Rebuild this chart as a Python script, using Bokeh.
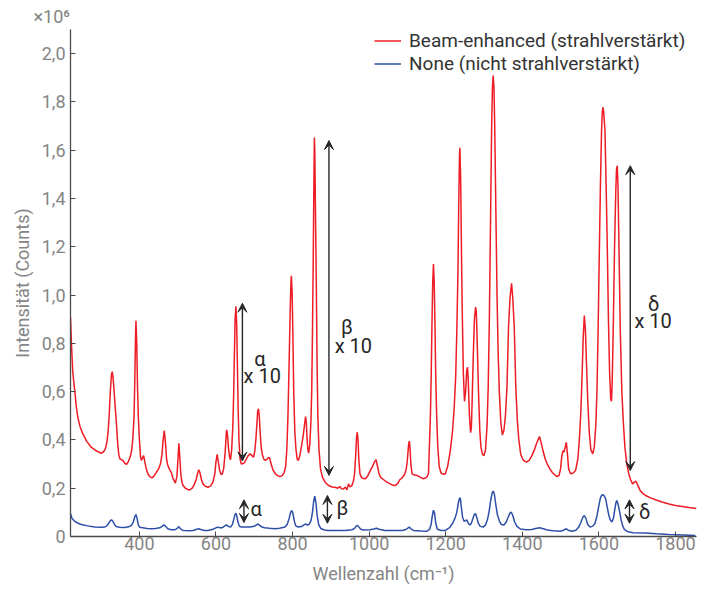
from bokeh.plotting import figure
from bokeh.models import (FixedTicker, Legend, LegendItem, Arrow, VeeHead, Label, Title)
from bokeh.embed import file_html
from bokeh.resources import INLINE

# ---- data (intensity in units of 10^6 counts) ----
red_x = [220, 223, 226, 231, 235, 239, 245, 252, 262, 274, 287, 300, 306, 311, 315, 318, 321, 324, 327, 329,
         331, 334, 337, 340, 343, 346, 349, 353, 357, 361, 366, 371, 376, 380, 383, 386, 388, 390, 391, 393,
         395, 397, 400, 403, 405, 408, 411, 414, 418, 422, 427, 433, 438, 444, 450, 455, 459, 462, 465, 468,
         471, 474, 478, 483, 488, 494, 498, 501, 503, 505, 508, 511, 514, 520, 526, 531, 538, 544, 548, 552,
         555, 558, 562, 566, 572, 579, 586, 592, 597, 600, 603, 606, 610, 613, 616, 620, 624, 627, 628, 630,
         633, 636, 638, 641, 644, 646, 648, 650, 652, 654, 656, 658, 660, 663, 666, 670, 674, 679, 684, 689,
         694, 698, 701, 704, 707, 709, 711, 713, 715, 718, 721, 725, 729, 733, 737, 740, 744, 749, 755, 761,
         767, 773, 778, 782, 785, 788, 791, 794, 796, 797, 799, 801, 803, 806, 809, 812, 815, 819, 824, 828,
         831, 834, 836, 838, 840, 842, 845, 848, 850, 852, 854, 856, 857, 858, 860, 862, 864, 866, 869, 873,
         878, 885, 894, 903, 911, 918, 923, 928, 933, 938, 942, 946, 950, 955, 959, 962, 965, 967, 969, 971,
         973, 976, 980, 985, 990, 996, 1003, 1009, 1014, 1018, 1022, 1026, 1030, 1038, 1046, 1055, 1062, 1068, 1075, 1080,
         1086, 1092, 1097, 1100, 1103, 1105, 1107, 1109, 1112, 1118, 1125, 1134, 1142, 1150, 1155, 1160, 1162, 1164, 1166, 1168,
         1170, 1172, 1174, 1176, 1179, 1183, 1188, 1195, 1199, 1205, 1212, 1218, 1222, 1226, 1229, 1232, 1234, 1236, 1237, 1239,
         1241, 1243, 1246, 1249, 1252, 1255, 1257, 1259, 1262, 1265, 1267, 1269, 1272, 1275, 1278, 1280, 1283, 1286, 1289, 1292,
         1296, 1300, 1304, 1308, 1311, 1314, 1317, 1320, 1322, 1324, 1326, 1328, 1331, 1334, 1337, 1340, 1344, 1348, 1352, 1356,
         1360, 1364, 1368, 1372, 1375, 1379, 1383, 1387, 1391, 1396, 1403, 1411, 1418, 1425, 1432, 1437, 1441, 1445, 1449, 1454,
         1460, 1465, 1472, 1478, 1485, 1491, 1496, 1500, 1503, 1506, 1509, 1512, 1515, 1518, 1521, 1526, 1532, 1539, 1545, 1549,
         1553, 1556, 1559, 1562, 1565, 1568, 1571, 1575, 1579, 1584, 1588, 1592, 1595, 1598, 1601, 1604, 1607, 1609, 1611, 1613,
         1616, 1619, 1622, 1625, 1628, 1631, 1633, 1635, 1638, 1641, 1644, 1646, 1648, 1650, 1653, 1656, 1660, 1664, 1668, 1673,
         1678, 1683, 1688, 1693, 1697, 1701, 1708, 1715, 1722, 1735, 1748, 1765, 1783, 1800, 1818, 1836, 1855]
red_y = [0.908, 0.780, 0.680, 0.605, 0.540, 0.494, 0.455, 0.426, 0.395, 0.370, 0.355, 0.345, 0.350, 0.363, 0.390, 0.430, 0.500, 0.600, 0.670, 0.683,
         0.660, 0.600, 0.530, 0.470, 0.390, 0.340, 0.322, 0.318, 0.315, 0.305, 0.298, 0.310, 0.330, 0.360, 0.410, 0.500, 0.650, 0.840, 0.894, 0.800,
         0.620, 0.500, 0.400, 0.330, 0.315, 0.325, 0.335, 0.310, 0.280, 0.260, 0.248, 0.243, 0.250, 0.266, 0.280, 0.301, 0.340, 0.400, 0.439, 0.390,
         0.320, 0.295, 0.280, 0.266, 0.240, 0.221, 0.250, 0.330, 0.386, 0.340, 0.260, 0.225, 0.211, 0.200, 0.195, 0.193, 0.200, 0.218, 0.235, 0.262,
         0.276, 0.265, 0.235, 0.218, 0.208, 0.204, 0.210, 0.225, 0.260, 0.310, 0.340, 0.310, 0.270, 0.258, 0.257, 0.280, 0.350, 0.430, 0.442, 0.420,
         0.360, 0.325, 0.318, 0.360, 0.460, 0.580, 0.750, 0.900, 0.954, 0.880, 0.700, 0.520, 0.400, 0.320, 0.300, 0.302, 0.305, 0.320, 0.335, 0.342,
         0.335, 0.328, 0.350, 0.398, 0.470, 0.520, 0.529, 0.500, 0.440, 0.370, 0.340, 0.320, 0.315, 0.320, 0.327, 0.325, 0.300, 0.275, 0.260, 0.252,
         0.248, 0.252, 0.265, 0.290, 0.360, 0.500, 0.720, 0.950, 1.060, 1.080, 1.000, 0.820, 0.600, 0.430, 0.360, 0.320, 0.315, 0.335, 0.380, 0.420,
         0.460, 0.497, 0.470, 0.400, 0.360, 0.345, 0.380, 0.480, 0.600, 0.850, 1.150, 1.520, 1.653, 1.600, 1.320, 1.050, 0.720, 0.500, 0.360, 0.280,
         0.246, 0.225, 0.211, 0.205, 0.204, 0.200, 0.207, 0.198, 0.197, 0.205, 0.193, 0.218, 0.205, 0.211, 0.230, 0.260, 0.340, 0.410, 0.432, 0.400,
         0.320, 0.260, 0.245, 0.240, 0.239, 0.250, 0.273, 0.290, 0.310, 0.318, 0.290, 0.260, 0.245, 0.235, 0.225, 0.218, 0.212, 0.211, 0.220, 0.235,
         0.243, 0.255, 0.280, 0.320, 0.380, 0.395, 0.360, 0.300, 0.260, 0.255, 0.253, 0.245, 0.239, 0.245, 0.260, 0.500, 0.660, 0.870, 1.050, 1.129,
         1.050, 0.870, 0.660, 0.520, 0.380, 0.290, 0.262, 0.258, 0.260, 0.290, 0.356, 0.440, 0.530, 0.660, 0.850, 1.100, 1.380, 1.580, 1.610, 1.480,
         1.200, 0.950, 0.680, 0.560, 0.600, 0.690, 0.701, 0.640, 0.500, 0.430, 0.450, 0.560, 0.750, 0.900, 0.950, 0.930, 0.760, 0.580, 0.440, 0.370,
         0.340, 0.335, 0.360, 0.460, 0.620, 0.900, 1.300, 1.700, 1.860, 1.909, 1.860, 1.700, 1.350, 1.000, 0.760, 0.600, 0.470, 0.420, 0.440, 0.500,
         0.620, 0.867, 0.990, 1.049, 0.990, 0.867, 0.620, 0.480, 0.400, 0.340, 0.315, 0.308, 0.315, 0.335, 0.360, 0.384, 0.400, 0.414, 0.390, 0.356,
         0.320, 0.301, 0.280, 0.266, 0.255, 0.248, 0.253, 0.280, 0.330, 0.355, 0.350, 0.370, 0.390, 0.340, 0.280, 0.260, 0.262, 0.273, 0.320, 0.400,
         0.520, 0.660, 0.820, 0.915, 0.850, 0.700, 0.560, 0.430, 0.360, 0.342, 0.370, 0.460, 0.600, 0.850, 1.157, 1.450, 1.680, 1.760, 1.778, 1.750,
         1.680, 1.450, 1.200, 0.900, 0.680, 0.570, 0.560, 0.650, 0.900, 1.200, 1.420, 1.520, 1.536, 1.450, 1.150, 0.850, 0.600, 0.470, 0.370, 0.300,
         0.260, 0.235, 0.218, 0.225, 0.229, 0.215, 0.190, 0.178, 0.170, 0.160, 0.152, 0.143, 0.135, 0.128, 0.124, 0.120, 0.116]

blue_x = [220, 224, 231, 240, 248, 265, 283, 300, 309, 315, 320, 324, 327, 331, 335, 339, 348, 361, 372, 379,
          384, 388, 391, 394, 397, 401, 405, 409, 420, 431, 442, 453, 460, 464, 468, 474, 483, 493, 500, 503,
          506, 512, 518, 530, 540, 550, 555, 560, 570, 579, 592, 600, 605, 610, 616, 622, 627, 632, 638, 643,
          647, 650, 652, 654, 657, 661, 666, 688, 700, 706, 710, 714, 720, 727, 740, 754, 766, 780, 786, 791,
          795, 798, 801, 804, 808, 814, 823, 830, 834, 838, 843, 848, 852, 855, 858, 861, 864, 868, 874, 883,
          893, 915, 937, 955, 962, 967, 970, 973, 978, 985, 1002, 1012, 1019, 1026, 1041, 1060, 1086, 1096, 1102, 1105,
          1108, 1116, 1135, 1151, 1158, 1162, 1165, 1168, 1171, 1174, 1178, 1188, 1199, 1210, 1218, 1224, 1229, 1233, 1236, 1238,
          1241, 1244, 1248, 1252, 1255, 1259, 1263, 1267, 1271, 1275, 1278, 1281, 1285, 1290, 1298, 1304, 1309, 1313, 1317, 1321,
          1324, 1327, 1331, 1335, 1340, 1345, 1352, 1358, 1363, 1368, 1371, 1375, 1380, 1386, 1395, 1410, 1425, 1435, 1445, 1455,
          1465, 1480, 1500, 1510, 1515, 1520, 1530, 1540, 1547, 1553, 1558, 1562, 1566, 1571, 1577, 1584, 1590, 1595, 1599, 1604,
          1608, 1611, 1614, 1618, 1622, 1626, 1630, 1634, 1638, 1642, 1645, 1647, 1650, 1654, 1658, 1662, 1667, 1675, 1690, 1722,
          1750, 1783, 1820, 1852]
blue_y = [0.094, 0.075, 0.063, 0.055, 0.050, 0.044, 0.039, 0.038, 0.039, 0.044, 0.055, 0.066, 0.069, 0.062, 0.050, 0.041, 0.038, 0.037, 0.040, 0.046,
          0.060, 0.082, 0.091, 0.075, 0.048, 0.038, 0.037, 0.036, 0.033, 0.032, 0.033, 0.036, 0.043, 0.048, 0.043, 0.032, 0.028, 0.028, 0.036, 0.041,
          0.034, 0.026, 0.025, 0.024, 0.025, 0.030, 0.032, 0.029, 0.025, 0.025, 0.030, 0.036, 0.039, 0.036, 0.036, 0.043, 0.048, 0.042, 0.039, 0.050,
          0.075, 0.092, 0.096, 0.088, 0.062, 0.043, 0.039, 0.039, 0.042, 0.048, 0.052, 0.046, 0.039, 0.036, 0.034, 0.032, 0.034, 0.039, 0.050, 0.075,
          0.100, 0.108, 0.095, 0.068, 0.045, 0.039, 0.041, 0.048, 0.052, 0.048, 0.050, 0.065, 0.100, 0.145, 0.167, 0.140, 0.090, 0.050, 0.033, 0.027,
          0.025, 0.025, 0.025, 0.028, 0.034, 0.045, 0.046, 0.040, 0.030, 0.027, 0.028, 0.031, 0.034, 0.030, 0.025, 0.025, 0.025, 0.029, 0.036, 0.039,
          0.033, 0.025, 0.023, 0.022, 0.030, 0.052, 0.085, 0.109, 0.095, 0.055, 0.030, 0.025, 0.025, 0.037, 0.055, 0.075, 0.100, 0.140, 0.158, 0.160,
          0.120, 0.080, 0.063, 0.066, 0.069, 0.055, 0.047, 0.055, 0.075, 0.092, 0.094, 0.080, 0.055, 0.042, 0.039, 0.048, 0.070, 0.100, 0.145, 0.180,
          0.188, 0.175, 0.130, 0.090, 0.065, 0.050, 0.048, 0.060, 0.080, 0.098, 0.101, 0.088, 0.060, 0.042, 0.031, 0.028, 0.029, 0.033, 0.036, 0.032,
          0.027, 0.024, 0.022, 0.028, 0.032, 0.026, 0.022, 0.026, 0.038, 0.058, 0.080, 0.087, 0.075, 0.050, 0.039, 0.043, 0.055, 0.085, 0.120, 0.160,
          0.172, 0.173, 0.168, 0.155, 0.120, 0.088, 0.068, 0.060, 0.075, 0.115, 0.143, 0.149, 0.135, 0.105, 0.070, 0.045, 0.028, 0.020, 0.016, 0.014,
          0.011, 0.008, 0.006, 0.004]

x_ticks = [400, 600, 800, 1000, 1200, 1400, 1600, 1800]
y_ticks = [0, 0.2, 0.4, 0.6, 0.8, 1.0, 1.2, 1.4, 1.6, 1.8, 2.0]
y_tick_labels = ["0", "0,2", "0,4", "0,6", "0,8", "1,0", "1,2", "1,4", "1,6", "1,8", "2,0"]
series_names = ["Beam-enhanced (strahlverstärkt)", "None (nicht strahlverstärkt)"]
scale_text = "×10⁶"

# annotation arrows: (wavenumber, start value, end value)
big_arrows = [(669, 0.966, 0.313), (895, 1.640, 0.253), (1682, 1.536, 0.273)]
small_arrows = [(673, 0.152, 0.058), (891, 0.170, 0.055), (1680, 0.152, 0.055)]
greek = ["α", "β", "δ"]
big_greek_pos = [(715, 0.737), (942, 0.867), (1743, 0.964)]
big_x10_pos = [(672, 0.663), (910, 0.791), (1693, 0.894)]
small_greek_pos = [(690, 0.112), (915, 0.116), (1705, 0.100)]

RED = "#ee1c25"
BLUE = "#2d4fa8"
FONT = "Roboto"
GREY = "#858585"
DARK = "#262626"

p = figure(width=702, height=588, x_range=(220, 1855), y_range=(0, 2.1),
           output_backend="svg", toolbar_location=None,
           min_border_left=70, min_border_right=6, min_border_top=29, min_border_bottom=52)
p.outline_line_color = None
p.xgrid.grid_line_color = None
p.ygrid.grid_line_color = None

r_red = p.line(red_x, red_y, line_color=RED, line_width=1.5)
r_blue = p.line(blue_x, blue_y, line_color=BLUE, line_width=1.5)

for ax in (p.xaxis[0], p.yaxis[0]):
    ax.axis_line_color = "#4a4a4a"
    ax.axis_line_width = 1.3
    ax.major_tick_line_color = "#4a4a4a"
    ax.major_tick_in = 5
    ax.major_tick_out = 0
    ax.minor_tick_line_color = None
    ax.major_label_text_font = FONT
    ax.major_label_text_font_size = "18px"
    ax.major_label_text_color = GREY
    ax.axis_label_text_font = FONT
    ax.axis_label_text_font_size = "18px"
    ax.axis_label_text_color = GREY
    ax.axis_label_text_font_style = "normal"

p.xaxis.ticker = FixedTicker(ticks=x_ticks)
p.yaxis.ticker = FixedTicker(ticks=y_ticks)
p.yaxis.major_label_overrides = {t: l for t, l in zip(y_ticks, y_tick_labels)}
p.xaxis.axis_label = "Wellenzahl (cm⁻¹)"
p.yaxis.axis_label = "Intensität (Counts)"
p.xaxis.major_label_standoff = 0
p.yaxis.major_label_standoff = 5
p.xaxis.axis_label_standoff = 10
p.yaxis.axis_label_standoff = 6

# scale factor note above the y axis
p.add_layout(Title(text=scale_text, align="left", offset=-37, standoff=5,
                   text_font=FONT, text_font_size="18px", text_color=GREY,
                   text_font_style="normal"), "above")

legend = Legend(items=[LegendItem(label=series_names[0], renderers=[r_red]),
                       LegendItem(label=series_names[1], renderers=[r_blue])],
                location=(304, 461), border_line_color=None, background_fill_alpha=0,
                padding=0, margin=0, spacing=0, glyph_width=27, glyph_height=23,
                label_height=23, label_standoff=8,
                label_text_font=FONT, label_text_font_size="19px", label_text_color="#333333")
p.add_layout(legend, "center")

for (xa, y0, y1) in big_arrows + small_arrows:
    p.add_layout(Arrow(x_start=xa, y_start=y0, x_end=xa, y_end=y1,
                       start=VeeHead(size=9, fill_color=DARK, line_color=DARK),
                       end=VeeHead(size=9, fill_color=DARK, line_color=DARK),
                       line_color=DARK, line_width=1.4))

for g, (gx, gy) in zip(greek, big_greek_pos):
    p.add_layout(Label(x=gx, y=gy, text=g, text_align="center", text_baseline="middle",
                       text_font=FONT, text_font_size="20px", text_color=DARK))
for (gx, gy) in big_x10_pos:
    p.add_layout(Label(x=gx, y=gy, text="x 10", text_align="left", text_baseline="middle",
                       text_font=FONT, text_font_size="20px", text_color=DARK))
for g, (gx, gy) in zip(greek, small_greek_pos):
    p.add_layout(Label(x=gx, y=gy, text=g, text_align="left", text_baseline="middle",
                       text_font=FONT, text_font_size="20px", text_color=DARK))

open("out.html", "w").write(file_html(p, INLINE))
